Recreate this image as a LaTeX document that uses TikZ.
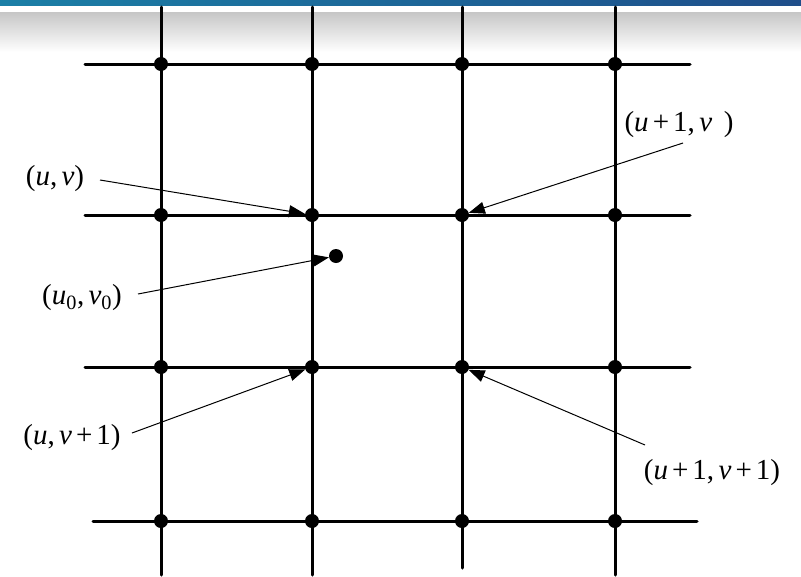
\documentclass[tikz,border=0pt]{standalone}
\usepackage{fontspec}
\setmainfont{Liberation Serif}
\usetikzlibrary{arrows.meta}
\definecolor{bandL}{HTML}{1B7FA6}
\definecolor{bandR}{HTML}{1F4E8A}
\definecolor{greyTop}{HTML}{C6C6C6}
\newcommand{\iu}{\textit{u}}
\newcommand{\iv}{\textit{v}}
\newcommand{\pl}{\hspace{0.14em}+\hspace{0.14em}}
\begin{document}
\begin{tikzpicture}[x=1pt,y=-1pt,
  gridline/.style={line width=3pt,line cap=round},
  dot/.style={circle,fill=black,inner sep=0pt,minimum size=14pt},
  lbl/.style={font=\fontsize{29}{32}\selectfont,inner sep=1pt},
  ptr/.style={line width=1pt,-{Triangle[length=16pt,width=12pt]}}]
\useasboundingbox (0,0) rectangle (801,576);
\fill[white] (0,0) rectangle (801,576);
% header
\shade[left color=bandL,right color=bandR] (0,0) rectangle (801,5.5);
\shade[top color=greyTop,bottom color=white] (0,12) rectangle (801,52);
% vertical lines
\draw[gridline] (161,7) -- (161,575);
\draw[gridline] (312,7) -- (312,575);
\draw[gridline] (462,7) -- (462,568);
\draw[gridline] (615,7) -- (615,575);
% horizontal lines
\draw[gridline] (85,64) -- (690,64);
\draw[gridline] (85,215) -- (690,215);
\draw[gridline] (85,367) -- (690,367);
\draw[gridline] (93,521) -- (697,521);
% dots
\foreach \c/\x in {1/161,2/312,3/462,4/615}{
  \node[dot] (r1c\c) at (\x,64) {};
  \node[dot] (r2c\c) at (\x,215) {};
  \node[dot] (r3c\c) at (\x,367) {};
  \node[dot] (r4c\c) at (\x,521) {};
}
\node[dot] (p0) at (336,256) {};
% labels
\node[lbl] (luv) at (55,179) {(\iu,\hspace{0.15em}\iv)};
\node[lbl] (lu0) at (82,298) {(\iu\textsubscript{0},\hspace{0.15em}\iv\textsubscript{0})};
\node[lbl] (lu1v) at (679,125) {(\iu\pl1,\hspace{0.15em}\iv\hspace{0.4em})};
\node[lbl] (luv1) at (72,438) {(\iu,\hspace{0.15em}\iv\pl1)};
\node[lbl] (lu1v1) at (712,473) {(\iu\pl1,\hspace{0.15em}\iv\pl1)};
% pointer start points
\coordinate (suv) at (100,180);
\coordinate (su0) at (138,294);
\coordinate (su1v) at (683,143);
\coordinate (suv1) at (132,433);
\coordinate (su1v1) at (645,445);
\draw[ptr] (suv) -- (r2c2);
\draw[ptr] (su0) -- (p0);
\draw[ptr] (su1v) -- (r2c3);
\draw[ptr] (suv1) -- (r3c2);
\draw[ptr] (su1v1) -- (r3c3);
\end{tikzpicture}
\end{document}
